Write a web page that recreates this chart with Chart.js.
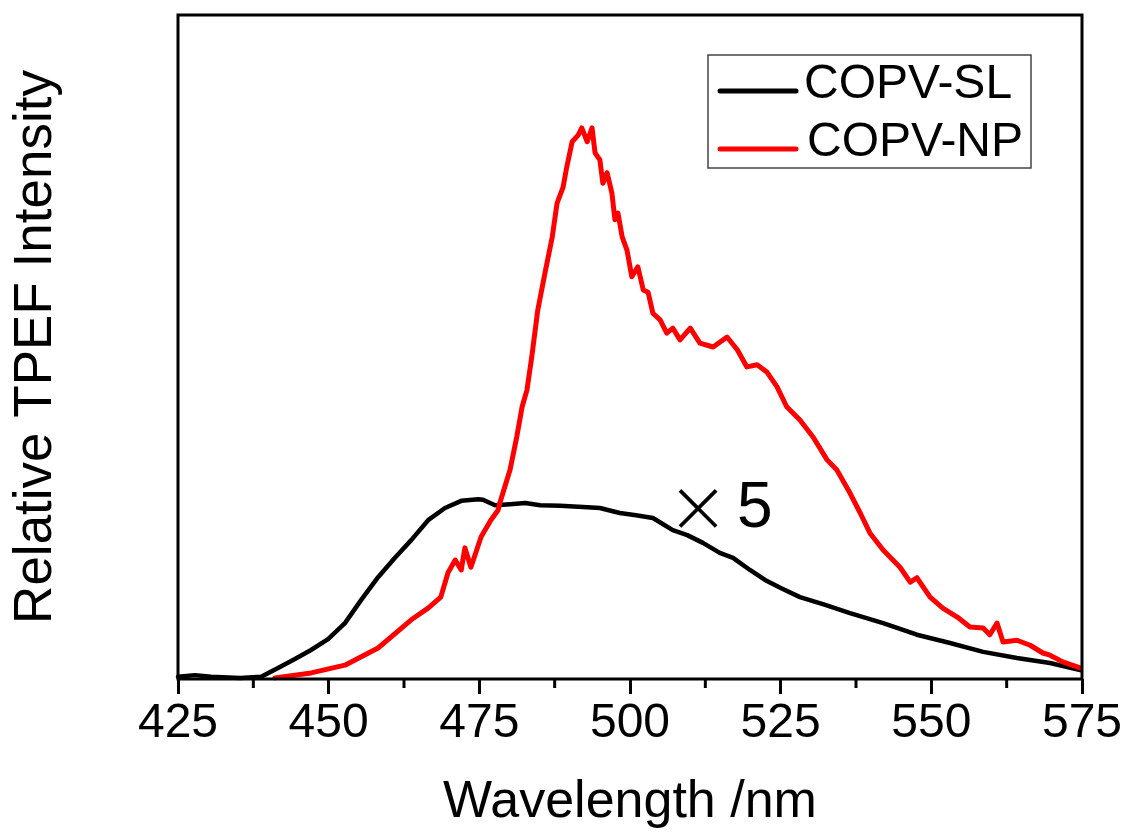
<!DOCTYPE html>
<html><head><meta charset="utf-8">
<script src="https://cdn.jsdelivr.net/npm/chart.js@4/dist/chart.umd.min.js"></script>
<style>html,body{margin:0;padding:0;background:#fff}#wrap{width:1127px;height:834px;position:relative}</style>
</head><body><div id="wrap"><canvas id="c"></canvas></div>
<script>
const seriesNames = ['COPV-SL', 'COPV-NP'];
const seriesColors = ['#000000', '#ff0000'];
const xTicks = [425, 450, 475, 500, 525, 550, 575];
const xMinorTicks = [437.5, 462.5, 487.5, 512.5, 537.5, 562.5];
const xTitle = 'Wavelength /nm';
const yTitle = 'Relative TPEF Intensity';
const annotationMult = '×';
const annotationFactor = '5';
const annotationAt = [511.3, 0.311];

const slWavelength = [425.0, 427.8, 430.5, 435.3, 438.8, 441.6, 444.4, 447.0, 449.9, 452.7, 455.4, 458.2, 461.0, 463.7, 466.5, 469.3, 472.0, 474.8, 475.6, 477.6, 480.1, 482.6, 485.1, 488.4, 492.2, 495.0, 498.3, 501.0, 503.8, 507.1, 509.5, 512.1, 514.9, 517.1, 519.9, 522.4, 525.1, 528.2, 532.4, 536.5, 542.0, 547.6, 553.1, 558.6, 564.2, 569.7, 574.7];
const slIntensity = [0.004, 0.007, 0.004, 0.002, 0.004, 0.020, 0.036, 0.052, 0.072, 0.101, 0.143, 0.184, 0.219, 0.251, 0.287, 0.309, 0.322, 0.325, 0.324, 0.314, 0.316, 0.318, 0.314, 0.313, 0.311, 0.309, 0.300, 0.296, 0.291, 0.269, 0.260, 0.246, 0.228, 0.219, 0.197, 0.179, 0.164, 0.148, 0.134, 0.119, 0.101, 0.080, 0.065, 0.049, 0.038, 0.029, 0.016];

const npWavelength = [441.1, 447.1, 452.7, 458.2, 463.7, 466.5, 468.6, 469.8, 471.0, 472.0, 472.6, 473.6, 475.3, 476.9, 478.1, 478.4, 480.1, 481.2, 482.1, 482.9, 483.7, 484.7, 485.9, 487.1, 487.9, 488.9, 489.5, 490.4, 491.4, 492.0, 492.9, 493.7, 494.2, 495.0, 495.5, 496.2, 497.0, 497.5, 498.0, 498.7, 499.5, 500.3, 501.3, 502.2, 503.0, 503.8, 505.0, 506.1, 507.1, 508.3, 510.0, 511.6, 513.8, 516.1, 517.8, 519.4, 521.1, 522.7, 524.4, 526.0, 528.2, 530.4, 532.7, 534.3, 536.5, 538.2, 539.8, 542.0, 544.8, 546.5, 547.6, 549.8, 551.9, 554.3, 556.4, 558.6, 559.7, 560.9, 561.9, 564.2, 566.4, 568.5, 569.7, 571.8, 574.7];
const npIntensity = [0.002, 0.011, 0.025, 0.056, 0.107, 0.128, 0.148, 0.192, 0.215, 0.197, 0.237, 0.202, 0.257, 0.287, 0.305, 0.318, 0.378, 0.437, 0.492, 0.522, 0.582, 0.667, 0.734, 0.799, 0.860, 0.889, 0.925, 0.971, 0.983, 0.996, 0.971, 0.996, 0.951, 0.938, 0.896, 0.915, 0.878, 0.830, 0.842, 0.799, 0.775, 0.727, 0.745, 0.703, 0.699, 0.661, 0.649, 0.625, 0.634, 0.613, 0.634, 0.607, 0.600, 0.618, 0.595, 0.564, 0.568, 0.555, 0.528, 0.492, 0.468, 0.437, 0.396, 0.378, 0.336, 0.300, 0.264, 0.233, 0.202, 0.175, 0.183, 0.148, 0.128, 0.112, 0.094, 0.092, 0.080, 0.101, 0.067, 0.070, 0.061, 0.047, 0.043, 0.031, 0.020];

const FONT = '"Liberation Sans", Arial, sans-serif';

const extrasPlugin = {
  id: 'extras',
  afterDraw(chart) {
    const {ctx, chartArea: a, scales: {x, y}} = chart;
    ctx.save();
    ctx.strokeStyle = '#000';
    ctx.lineWidth = 3;
    ctx.strokeRect(a.left, a.top, a.right - a.left, a.bottom - a.top);
    xMinorTicks.forEach(v => {
      const px = x.getPixelForValue(v);
      ctx.beginPath(); ctx.moveTo(px, a.bottom); ctx.lineTo(px, a.bottom + 9); ctx.stroke();
    });
    const ax = x.getPixelForValue(annotationAt[0]);
    const ay = y.getPixelForValue(annotationAt[1]);
    ctx.fillStyle = '#000';
    ctx.textBaseline = 'middle';
    ctx.textAlign = 'center';
    ctx.font = '200 90px Inter, ' + FONT;
    ctx.fillText(annotationMult, ax, ay);
    ctx.textAlign = 'left';
    ctx.font = '64px ' + FONT;
    ctx.fillText(annotationFactor, ax + 39, ay + 2);
    const lx = a.left + 530, ly = a.top + 40, lw = 323, lh = 113;
    ctx.strokeStyle = '#444';
    ctx.lineWidth = 1.5;
    ctx.strokeRect(lx, ly, lw, lh);
    ctx.font = '48px ' + FONT;
    ctx.textAlign = 'left';
    ctx.textBaseline = 'middle';
    const rows = [36, 94];
    chart.data.datasets.forEach((ds, i) => {
      const ry = ly + rows[i];
      ctx.strokeStyle = ds.borderColor;
      ctx.lineWidth = 5;
      ctx.lineCap = 'round';
      ctx.beginPath(); ctx.moveTo(lx + 12, ry); ctx.lineTo(lx + 88, ry); ctx.stroke();
      ctx.fillStyle = '#000';
      ctx.fillText(ds.label, lx + 96 + i * 3, ry - 6);
    });
    ctx.restore();
  }
};

new Chart(document.getElementById('c'), {
  type: 'line',
  data: {
    datasets: [
      {
        label: seriesNames[0],
        data: slWavelength.map((w, i) => ({x: w, y: slIntensity[i]})),
        borderColor: seriesColors[0], borderWidth: 4.5, pointRadius: 0, tension: 0,
        order: 1, clip: false, borderJoinStyle: 'round', borderCapStyle: 'round'
      },
      {
        label: seriesNames[1],
        data: npWavelength.map((w, i) => ({x: w, y: npIntensity[i]})),
        borderColor: seriesColors[1], borderWidth: 5, pointRadius: 0, tension: 0,
        order: 0, clip: false, borderJoinStyle: 'round', borderCapStyle: 'round'
      }
    ]
  },
  options: {
    responsive: true,
    maintainAspectRatio: false,
    animation: false,
    layout: {padding: {top: 15, right: 45, left: 0, bottom: 0}},
    plugins: {legend: {display: false}, tooltip: {enabled: false}},
    scales: {
      x: {
        type: 'linear', min: 425, max: 575,
        afterBuildTicks: s => { s.ticks = xTicks.map(v => ({value: v})); },
        afterFit: s => { s.height = 155; },
        border: {display: false},
        grid: {display: true, drawOnChartArea: false, drawTicks: true, tickLength: 15, tickWidth: 3, tickColor: '#000'},
        ticks: {color: '#000', font: {family: FONT, size: 48}, padding: 1, maxRotation: 0, autoSkip: false},
        title: {display: true, text: xTitle, color: '#000', font: {family: FONT, size: 52}, padding: {top: 0, bottom: 0}}
      },
      y: {
        type: 'linear', min: 0, max: 1.2,
        afterFit: s => { s.width = 178; },
        border: {display: false},
        grid: {display: false},
        ticks: {display: false},
        title: {display: true, text: yTitle, color: '#000', font: {family: FONT, size: 53}, padding: {top: 5, bottom: 0}}
      }
    }
  },
  plugins: [extrasPlugin]
});
</script>
</body></html>
